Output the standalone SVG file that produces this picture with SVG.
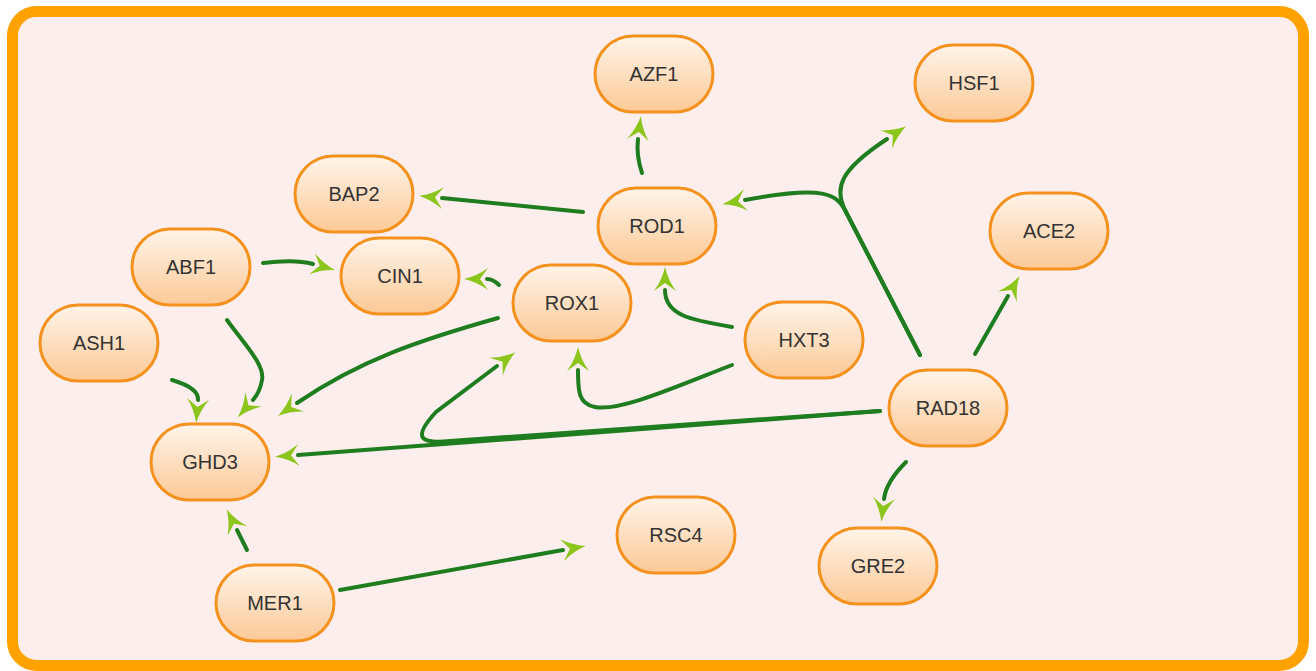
<svg xmlns="http://www.w3.org/2000/svg" width="1316" height="671" viewBox="0 0 1316 671">
<defs>
<linearGradient id="ng" x1="0" y1="0" x2="0" y2="1">
<stop offset="0" stop-color="#fff4ea"/>
<stop offset="1" stop-color="#fcc996"/>
</linearGradient>
<marker id="ah" markerUnits="userSpaceOnUse" orient="auto" refX="0" refY="0" markerWidth="40" markerHeight="40" viewBox="-10 -20 40 40" overflow="visible">
<path d="M23,0 Q10,-3 -1,-11 L7,0 L-1,11 Q10,3 23,0 Z" fill="#8cc51c"/>
</marker>
</defs>
<style>
.node rect{fill:url(#ng);stroke:#f5921e;stroke-width:3}
.node text{font-family:"Liberation Sans",Arial,sans-serif;font-size:20px;fill:#333;text-anchor:middle;dominant-baseline:central}
.edge{fill:none;stroke:#1e7d1e;stroke-width:4;stroke-linecap:round;marker-end:url(#ah)}
</style>
<rect x="0" y="0" width="1316" height="671" fill="#ffffff"/>
<rect x="12.5" y="11.5" width="1291" height="654" rx="24" fill="#fdeeee" stroke="#ffa200" stroke-width="11"/>
<g id="connectors">
<path class="edge" d="M642,173 Q636,155 638,139"/>
<path class="edge" d="M583,212 L442,198"/>
<path class="edge" d="M920,355 L846,212 C837,194 825,185 745,200"/>
<path class="edge" d="M920,355 L846,212 C833,188 840,170 887,139"/>
<path class="edge" d="M975,354 L1008,296"/>
<path class="edge" d="M906,462 Q886,482 884,499"/>
<path class="edge" d="M880,411 L298,455"/>
<path class="edge" d="M880,411 L450,441 C420,444 412,438 436,412 L497,366"/>
<path class="edge" d="M732,365 C680,385 620,412 595,407 C578,404 578,390 578,370"/>
<path class="edge" d="M732,327 C690,320 665,315 665,290"/>
<path class="edge" d="M499,285 Q493,279 487,279"/>
<path class="edge" d="M263,263 Q295,259 313,264"/>
<path class="edge" d="M227,320 C245,345 265,365 262,380 Q260,392 253,400"/>
<path class="edge" d="M172,380 Q199,388 198,400"/>
<path class="edge" d="M498,318 C420,340 360,360 297,403"/>
<path class="edge" d="M247,550 L237,530"/>
<path class="edge" d="M340,590 L563,550"/>
</g>
<g id="AZF1" class="node"><rect x="595" y="36" width="118" height="76" rx="38"/><text x="654" y="74">AZF1</text></g>
<g id="HSF1" class="node"><rect x="915" y="45" width="118" height="76" rx="38"/><text x="974" y="83">HSF1</text></g>
<g id="BAP2" class="node"><rect x="295" y="156" width="118" height="76" rx="38"/><text x="354" y="194">BAP2</text></g>
<g id="ROD1" class="node"><rect x="598" y="188" width="118" height="76" rx="38"/><text x="657" y="226">ROD1</text></g>
<g id="ACE2" class="node"><rect x="990" y="193" width="118" height="76" rx="38"/><text x="1049" y="231">ACE2</text></g>
<g id="ABF1" class="node"><rect x="132" y="229" width="118" height="76" rx="38"/><text x="191" y="267">ABF1</text></g>
<g id="CIN1" class="node"><rect x="341" y="238" width="118" height="76" rx="38"/><text x="400" y="276">CIN1</text></g>
<g id="ROX1" class="node"><rect x="513" y="265" width="118" height="76" rx="38"/><text x="572" y="303">ROX1</text></g>
<g id="ASH1" class="node"><rect x="40" y="305" width="118" height="76" rx="38"/><text x="99" y="343">ASH1</text></g>
<g id="HXT3" class="node"><rect x="745" y="302" width="118" height="76" rx="38"/><text x="804" y="340">HXT3</text></g>
<g id="RAD18" class="node"><rect x="889" y="370" width="118" height="76" rx="38"/><text x="948" y="408">RAD18</text></g>
<g id="GHD3" class="node"><rect x="151" y="424" width="118" height="76" rx="38"/><text x="210" y="462">GHD3</text></g>
<g id="RSC4" class="node"><rect x="617" y="497" width="118" height="76" rx="38"/><text x="676" y="535">RSC4</text></g>
<g id="GRE2" class="node"><rect x="819" y="528" width="118" height="76" rx="38"/><text x="878" y="566">GRE2</text></g>
<g id="MER1" class="node"><rect x="216" y="565" width="118" height="76" rx="38"/><text x="275" y="603">MER1</text></g>
</svg>
